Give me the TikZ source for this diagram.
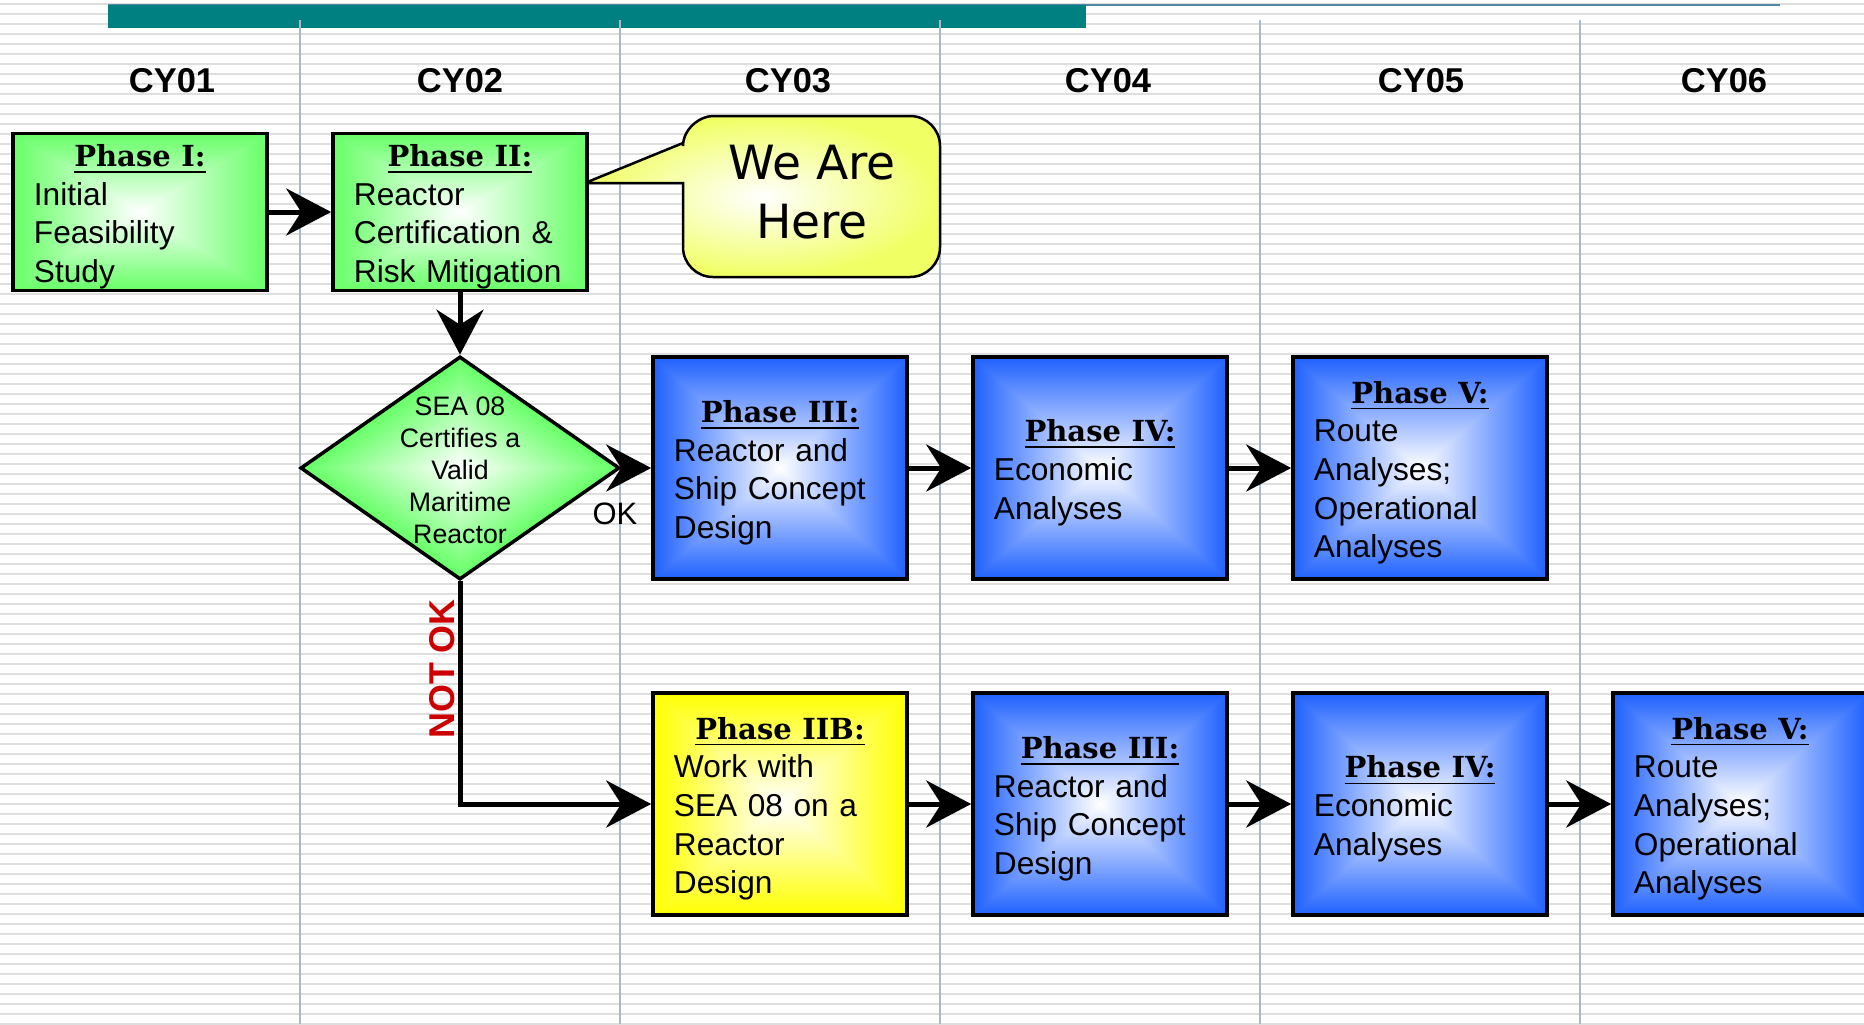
\documentclass[tikz,border=0pt]{standalone}
\usepackage{fontspec}
\setmainfont{Liberation Sans}
\newfontfamily\titlefont{DejaVu Serif}
\newfontfamily\calloutfont{DejaVu Sans}
\usetikzlibrary{arrows.meta,shapes.geometric}
\definecolor{tealbar}{RGB}{0,128,128}
\definecolor{thinblue}{RGB}{80,138,168}
\definecolor{stripegray}{RGB}{222,222,222}
\definecolor{vline}{RGB}{170,185,200}
\definecolor{callY}{RGB}{240,255,100}
\definecolor{notok}{RGB}{204,0,0}
% rectangular ("from centre") gradient: white in the middle, given colour at the edges
\newcommand\declrect[4]{\pgfdeclarefunctionalshading{#1}{\pgfpoint{-50bp}{-50bp}}{\pgfpoint{50bp}{50bp}}{}{abs exch abs 2 copy sub abs add add 2 div 25 div dup #2 1 sub mul 1 add exch dup #3 1 sub mul 1 add exch #4 1 sub mul 1 add}}
\newcommand\decldiam[4]{\pgfdeclarefunctionalshading{#1}{\pgfpoint{-50bp}{-50bp}}{\pgfpoint{50bp}{50bp}}{}{abs exch abs add 25 div dup #2 1 sub mul 1 add exch dup #3 1 sub mul 1 add exch #4 1 sub mul 1 add}}
\declrect{bluerect}{0.12}{0.38}{1}
\declrect{greenrect}{0.4}{1}{0.4}
\declrect{yellowrect}{1}{1}{0}
\decldiam{greendiam}{0.4}{1}{0.4}
\newcommand\ttl[1]{{\centering\titlefont\bfseries\fontsize{8.25pt}{11pt}\selectfont\rule{0pt}{9pt}\underline{#1}\par}}
\begin{document}
\begin{tikzpicture}[x=0.01cm,y=-0.01cm,
  box/.style={draw=black, line width=0.035cm, minimum width=2.54cm, text width=2.12cm,
    align=left, inner sep=0pt, font=\fontsize{9pt}{11pt}\selectfont},
  rowone/.style={box, minimum height=1.57cm},
  rowtwo/.style={box, minimum height=2.22cm},
  greenbox/.style={shade, shading=greenrect},
  bluebox/.style={shade, shading=bluerect},
  yellowbox/.style={shade, shading=yellowrect},
  cy/.style={font=\bfseries\fontsize{9.8pt}{11pt}\selectfont},
  arr/.style={line width=0.05cm, -{Stealth[length=0.45cm, width=0.47cm, inset=0.15cm]}},
  stripe/.style={stripegray, line width=0.025cm},
  colline/.style={vline, line width=0.02cm}]
\useasboundingbox (0,0) rectangle (1864,1024);
\clip (0,0) rectangle (1864,1024);
\fill[white] (0,0) rectangle (1864,1024);
% background stripes
\foreach \yy in {4,14,...,1024} \draw[stripe] (0,\yy) -- (1864,\yy);
% progress bar
\draw[thinblue, line width=0.02cm] (108,5) -- (1780,5);
\fill[tealbar] (108,5) rectangle (1086,28);
% column lines
\foreach \xx in {300,620,940,1260,1580} \draw[colline] (\xx,20) -- (\xx,1024);
% year labels
\node[cy] (cy1) at (172,81) {CY01};
\node[cy] (cy2) at (460,81) {CY02};
\node[cy] (cy3) at (788,81) {CY03};
\node[cy] (cy4) at (1108,81) {CY04};
\node[cy] (cy5) at (1421,81) {CY05};
\node[cy] (cy6) at (1724,81) {CY06};
% callout
\path[shade, inner color=white, outer color=callY, draw=black, line width=0.025cm]
  (585,183) -- (683,143) -- (683,146) .. controls (683,129.4) and (699.4,116) .. (713,116)
  -- (910,116) .. controls (926.6,116) and (940,129.4) .. (940,146)
  -- (940,247) .. controls (940,263.6) and (926.6,277) .. (910,277)
  -- (713,277) .. controls (696.4,277) and (683,263.6) .. (683,247)
  -- (683,183) -- cycle;
\node[font=\calloutfont\fontsize{13.4pt}{16.7pt}\selectfont, align=center] (here) at (812,192) {We Are\\Here};
% phase boxes
\node[rowone, greenbox] (p1) at (140,212) {\ttl{Phase I:}Initial\\Feasibility\\Study};
\node[rowone, greenbox] (p2) at (460,212) {\ttl{Phase II:}Reactor\\Certification \&\\Risk Mitigation};
\node[draw=black, line width=0.035cm, diamond, minimum width=3.19cm, minimum height=2.23cm,
  inner sep=0pt, shade, shading=greendiam] (dec) at (460,468) {};
\node[font=\fontsize{7.6pt}{9.1pt}\selectfont, align=center] (dectext) at (460,470) {SEA 08\\Certifies a\\Valid\\Maritime\\Reactor};
\node[rowtwo, bluebox] (p3a) at (780,468) {\ttl{Phase III:}Reactor and\\Ship Concept\\Design};
\node[rowtwo, bluebox] (p4a) at (1100,468) {\ttl{Phase IV:}Economic\\Analyses};
\node[rowtwo, bluebox] (p5a) at (1420,468) {\ttl{Phase V:}Route\\Analyses;\\Operational\\Analyses};
\node[rowtwo, yellowbox] (p2b) at (780,804) {\ttl{Phase IIB:}Work with\\SEA 08 on a\\Reactor\\Design};
\node[rowtwo, bluebox] (p3b) at (1100,804) {\ttl{Phase III:}Reactor and\\Ship Concept\\Design};
\node[rowtwo, bluebox] (p4b) at (1420,804) {\ttl{Phase IV:}Economic\\Analyses};
\node[rowtwo, bluebox] (p5b) at (1740,804) {\ttl{Phase V:}Route\\Analyses;\\Operational\\Analyses};
% connectors
\draw[arr] (p1) -- (p2);
\draw[arr] (p2) -- (dec);
\draw[arr] (dec.east) -- (p3a.west);
\draw[arr] (p3a) -- (p4a);
\draw[arr] (p4a) -- (p5a);
\draw[arr] (dec.south) |- (p2b.west);
\draw[arr] (p2b) -- (p3b);
\draw[arr] (p3b) -- (p4b);
\draw[arr] (p4b) -- (p5b);
% labels
\node[font=\fontsize{8.8pt}{11pt}\selectfont] (ok) at (615,514) {OK};
\node[font=\bfseries\fontsize{10.2pt}{11pt}\selectfont, text=notok, rotate=90] (notok) at (442,669) {NOT OK};
\end{tikzpicture}
\end{document}
